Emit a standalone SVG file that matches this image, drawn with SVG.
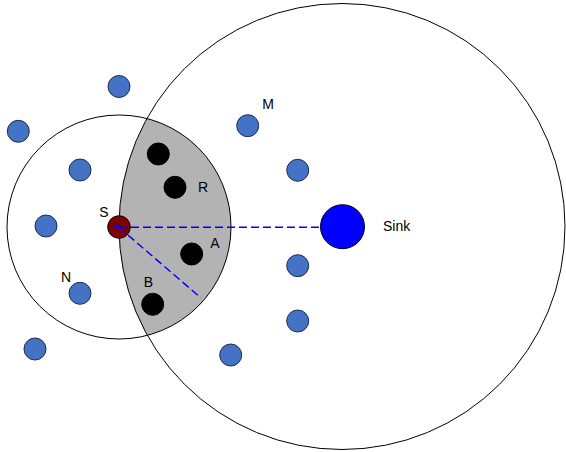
<svg xmlns="http://www.w3.org/2000/svg" width="566" height="452" viewBox="0 0 566 452">
<style>
.range{fill:none;stroke:#000;stroke-width:1}
.lens{fill:#b3b3b3;stroke:none}
.blue{fill:#4472c4;stroke:#1f2d4a;stroke-width:1}
.black{fill:#000;stroke:#000;stroke-width:1}
.lbl{font-family:"Liberation Sans",Arial,sans-serif;font-size:14px;fill:#000}
.dash{stroke:#0000ff;stroke-width:1.4;stroke-dasharray:8 4;fill:none}
</style>
<defs>
<marker id="arr" viewBox="0 0 10 10" refX="1" refY="5" markerWidth="6" markerHeight="6" orient="auto-start-reverse" markerUnits="userSpaceOnUse">
<path d="M9,1 L1,5 L9,9" fill="none" stroke="#0000ff" stroke-width="1.5"/>
</marker>
</defs>
<rect width="566" height="452" fill="#fff"/>
<g id="lens-region">
<path class="lens" d="M147.1,118.6 A112,112 0 0 1 147.1,335.4 A223,223 0 0 1 147.1,118.6 Z"/>
</g>
<g id="sink-range"><circle class="range" cx="342" cy="226.5" r="223"/></g>
<g id="s-range"><circle class="range" cx="119" cy="227" r="112"/></g>
<g id="nodes-blue">
<g id="n1"><circle class="blue" cx="119" cy="86.5" r="11"/></g>
<g id="n2"><circle class="blue" cx="18.3" cy="131.3" r="11"/></g>
<g id="n3"><circle class="blue" cx="80" cy="170" r="11"/></g>
<g id="n4"><circle class="blue" cx="46" cy="226" r="11"/></g>
<g id="N"><circle class="blue" cx="80" cy="293.3" r="11"/><text class="lbl" x="66" y="281.5" text-anchor="middle">N</text></g>
<g id="n6"><circle class="blue" cx="35" cy="349" r="11"/></g>
<g id="M"><circle class="blue" cx="247.7" cy="125.7" r="11"/><text class="lbl" x="268" y="108.5" text-anchor="middle">M</text></g>
<g id="n8"><circle class="blue" cx="297.7" cy="170.3" r="11"/></g>
<g id="n9"><circle class="blue" cx="297.7" cy="265.7" r="11"/></g>
<g id="n10"><circle class="blue" cx="297.7" cy="321" r="11"/></g>
<g id="n11"><circle class="blue" cx="230.7" cy="355" r="11"/></g>
</g>
<g id="nodes-black">
<g id="b1"><circle class="black" cx="158.3" cy="154" r="11"/></g>
<g id="R"><circle class="black" cx="175" cy="187.3" r="11"/><text class="lbl" x="203" y="192" text-anchor="middle">R</text></g>
<g id="A"><circle class="black" cx="191.7" cy="254" r="11"/><text class="lbl" x="215" y="248" text-anchor="middle">A</text></g>
<g id="B"><circle class="black" cx="152.7" cy="304.3" r="11"/><text class="lbl" x="148.3" y="287" text-anchor="middle">B</text></g>
</g>
<g id="S"><circle cx="119" cy="227" r="11.3" fill="#800000" stroke="#000" stroke-width="1"/><text class="lbl" x="104" y="217" text-anchor="middle">S</text></g>
<g id="Sink"><circle cx="342.5" cy="226.7" r="22" fill="#0000ff" stroke="#000" stroke-width="1"/><text class="lbl" x="383" y="231">Sink</text></g>
<g id="connectors">
<line class="dash" x1="119" y1="227.3" x2="320" y2="227.3" marker-start="url(#arr)"/>
<line class="dash" x1="119" y1="227.3" x2="201" y2="298" marker-start="url(#arr)"/>
</g>
</svg>
